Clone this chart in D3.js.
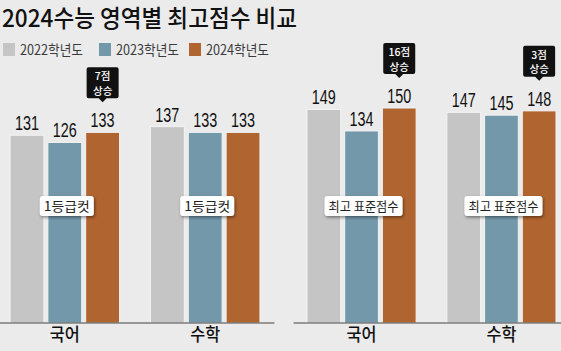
<!DOCTYPE html>
<meta charset="utf-8">
<script src="https://cdn.jsdelivr.net/npm/d3@7"></script>
<style>
  body { margin: 0; background: #ebebeb; }
  svg { display: block; }
  .kr { font-family: "Noto Sans CJK KR", "Noto Sans", sans-serif; }
  .num { font-family: "Liberation Sans Narrow", "Liberation Sans", sans-serif; }
</style>
<body>
<script>

var width = 561
var height = 351

// data
var subjects = ["국어", "수학"]
var years = ["2022학년도", "2023학년도", "2024학년도"]
var colors = ["#c5c5c5", "#7398a9", "#b0642f"]

var cut2022 = [131, 137]
var cut2023 = [126, 133]
var cut2024 = [133, 133]
var cutRise = ["7점", null]

var top2022 = [149, 147]
var top2023 = [134, 145]
var top2024 = [150, 148]
var topRise = ["16점", "3점"]

var title = "2024수능 영역별 최고점수 비교"

var svg = d3.select("body").append("svg")
            .attr("width", width)
            .attr("height", height)

svg.append("rect").attr("width", width).attr("height", height).attr("fill", "#ebebeb")

var defs = svg.append("defs")
var shadow = defs.append("filter").attr("id", "shadow")
                 .attr("x", "-20%").attr("y", "-30%").attr("width", "150%").attr("height", "180%")
shadow.append("feDropShadow").attr("dx", 1).attr("dy", 1.5).attr("stdDeviation", 1.5)
      .attr("flood-color", "#000").attr("flood-opacity", 0.45)

// title
svg.append("text")
   .attr("class", "kr")
   .attr("x", 2).attr("y", 27)
   .attr("font-size", 24).attr("font-weight", 500).attr("fill", "#111")
   .attr("textLength", 295).attr("lengthAdjust", "spacingAndGlyphs")
   .text(title)

// legend
var legendX = [3, 99, 189]
var legend = svg.append("g").selectAll("g").data(years).join("g")
    .attr("transform", function(d, i) { return "translate(" + legendX[i] + ",43)" })
legend.append("rect").attr("width", 12).attr("height", 13).attr("fill", function(d, i) { return colors[i] })
legend.append("text")
      .attr("class", "kr")
      .attr("x", 17).attr("y", 12)
      .attr("font-size", 14).attr("fill", "#3a3a3a")
      .attr("textLength", 63).attr("lengthAdjust", "spacingAndGlyphs")
      .text(function(d) { return d })

var y = d3.scaleLinear().domain([0, 150]).range([323, 108])

function drawPanel(series, range, rises, tag, tagW) {
  var g = svg.append("g")

  var x0 = d3.scaleBand().domain(subjects).range(range).paddingInner(0.22).paddingOuter(0.1)
  var x1 = d3.scaleBand().domain(years).range([0, x0.bandwidth()]).paddingInner(0.105)

  var rows = subjects.map(function(s, i) {
    return { subject: s, values: years.map(function(yr, j) { return { year: yr, j: j, v: series[j][i] } }), rise: rises[i] }
  })

  var grp = g.selectAll(".grp").data(rows).join("g")
      .attr("class", "grp")
      .attr("transform", function(d) { return "translate(" + x0(d.subject) + ",0)" })

  grp.selectAll("rect").data(function(d) { return d.values }).join("rect")
     .attr("x", function(d) { return x1(d.year) })
     .attr("width", x1.bandwidth())
     .attr("y", function(d) { return y(d.v) })
     .attr("height", function(d) { return y(0) - y(d.v) })
     .attr("fill", function(d) { return colors[d.j] })
     .attr("stroke", "#f4f4f4").attr("stroke-width", 1)

  grp.selectAll(".val").data(function(d) { return d.values }).join("text")
     .attr("class", "val num")
     .attr("x", function(d) { return x1(d.year) + x1.bandwidth() / 2 })
     .attr("y", function(d) { return y(d.v) - 5 })
     .attr("text-anchor", "middle")
     .attr("font-size", 20).attr("fill", "#111")
     .attr("textLength", 24).attr("lengthAdjust", "spacingAndGlyphs")
     .text(function(d) { return d.v })

  // rise callouts over the 2024 bar
  var call = grp.filter(function(d) { return d.rise })
      .append("g")
      .attr("transform", function(d) {
        return "translate(" + (x1(years[2]) + x1.bandwidth() / 2) + "," + (y(d.values[2].v) - 34) + ")"
      })
  call.append("path")
      .attr("d", "M-14,-31 h28 a2,2 0 0 1 2,2 v27 a2,2 0 0 1 -2,2 h-10 l-4,4 l-4,-4 h-10 a2,2 0 0 1 -2,-2 v-27 a2,2 0 0 1 2,-2 z")
      .attr("fill", "#111")
  call.append("text").attr("class", "kr")
      .attr("y", -18).attr("text-anchor", "middle")
      .attr("font-size", 10.5).attr("font-weight", 500).attr("fill", "#fff")
      .text(function(d) { return d.rise })
  call.append("text").attr("class", "kr")
      .attr("y", -3.5).attr("text-anchor", "middle")
      .attr("font-size", 10.5).attr("font-weight", 500).attr("fill", "#fff")
      .text("상승")

  // white tag label in the bars
  var t = grp.append("g")
      .attr("transform", "translate(" + (x1(years[1]) + x1.bandwidth() / 2 + 2) + ",206)")
  t.append("rect")
   .attr("x", -tagW / 2).attr("y", -10).attr("width", tagW).attr("height", 20)
   .attr("rx", 3).attr("fill", "#fff").attr("filter", "url(#shadow)")
  t.append("text").attr("class", "kr")
   .attr("y", 5).attr("text-anchor", "middle")
   .attr("font-size", 13).attr("fill", "#222")
   .attr("textLength", tagW - 8).attr("lengthAdjust", "spacingAndGlyphs")
   .text(tag)

  var axis = g.append("g")
      .attr("transform", "translate(0,322.5)")
      .call(d3.axisBottom(x0).tickSize(0).tickPadding(6))
  axis.select(".domain").attr("stroke", "#444").attr("stroke-width", 1.2)
  axis.selectAll("text")
      .attr("class", "kr")
      .attr("font-size", 18).attr("font-weight", 500).attr("fill", "#111")
      .attr("font-family", null)
      .attr("textLength", 30).attr("lengthAdjust", "spacingAndGlyphs")
}

drawPanel([cut2022, cut2023, cut2024], [-4, 274], cutRise, "1등급컷", 54)
drawPanel([top2022, top2023, top2024], [293, 570], topRise, "최고 표준점수", 78)

</script>
</body>
